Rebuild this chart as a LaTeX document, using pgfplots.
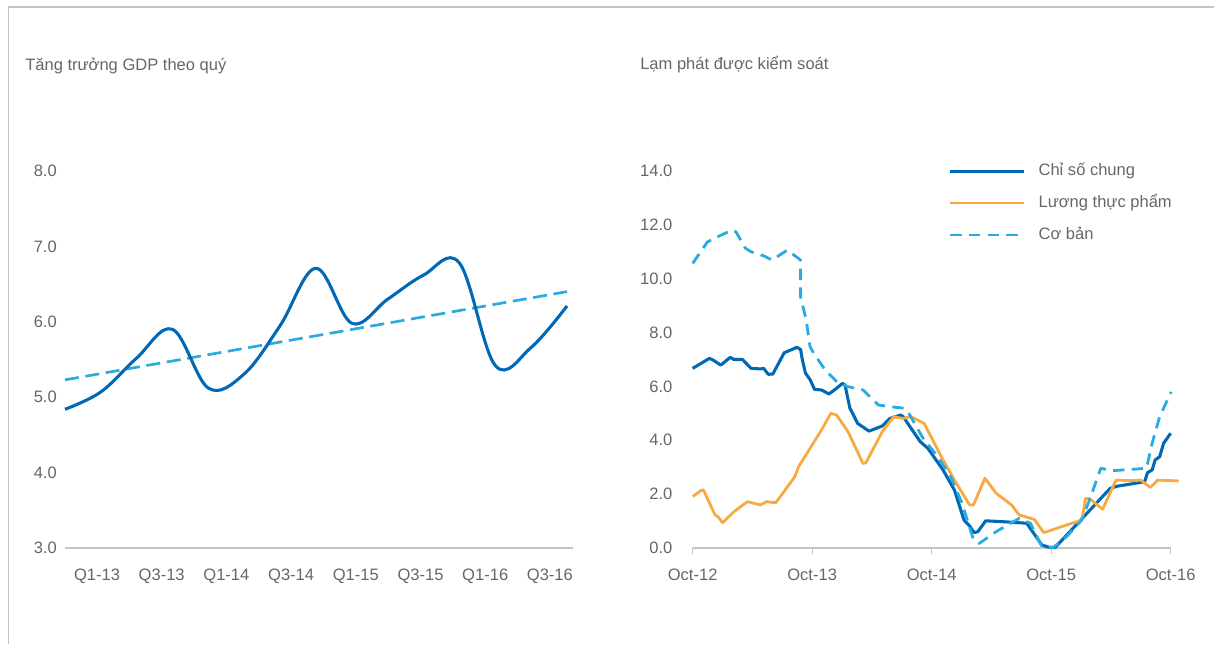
\documentclass[border=0pt]{standalone}
\usepackage{fontspec}
\setmainfont{Liberation Sans}
\usepackage{pgfplots}
\pgfplotsset{compat=1.18}
\definecolor{dkblue}{HTML}{0068B4}
\definecolor{ltblue}{HTML}{29ABE2}
\definecolor{orng}{HTML}{F8A93F}
\definecolor{txt}{HTML}{666666}
\definecolor{axg}{HTML}{C4C4C4}
\newcommand\fs{\fontsize{12.4}{14}\selectfont}

\pgfplotstableread{
x y
0 4.84
1 5.07
2 5.52
3 5.90
4 5.12
5 5.31
6 5.95
7 6.71
8 5.98
9 6.30
10 6.62
11 6.78
12 5.42
13 5.66
14 6.21
}\gdp

\pgfplotstableread{
x y
0 5.23
14 6.40
}\trend

\pgfplotstableread{
x y
0 6.67
1.67 7.04
2.05 6.98
2.82 6.79
3.77 7.08
4.15 7.0
5.0 7.0
5.87 6.67
6.82 6.65
7.13 6.67
7.59 6.45
8.05 6.46
9.19 7.25
10.45 7.45
10.83 7.38
11.02 6.98
11.33 6.49
11.78 6.26
12.24 5.89
12.93 5.87
13.69 5.72
14.45 5.93
15.03 6.11
15.3 6.05
15.79 5.19
16.06 5.0
16.56 4.63
17.7 4.34
19.04 4.53
19.8 4.81
20.87 4.94
21.13 4.88
22.85 3.95
23.62 3.70
25.14 2.90
26.29 2.15
27.24 1.04
27.81 0.82
28.27 0.57
28.65 0.61
29.42 1.01
31.5 0.97
33.54 0.92
35.07 0.11
35.83 0.02
36.4 0.02
39.27 1.16
41.94 2.22
42.7 2.30
45.38 2.46
45.68 2.80
46.14 2.90
46.44 3.27
46.9 3.39
47.29 3.89
48 4.26
}\cpi

\pgfplotstableread{
x y
0 10.57
1.49 11.37
2.63 11.58
3.97 11.81
4.35 11.74
5.3 11.13
5.87 11.0
7.2 10.84
7.97 10.69
9.49 11.06
10.64 10.75
10.83 10.69
10.83 9.33
11.4 8.47
11.78 7.48
12.16 7.23
13.3 6.61
14.64 6.11
15.6 5.99
17.1 5.87
18.66 5.31
19.8 5.25
21.25 5.19
21.7 5.0
23.24 4.01
24.38 3.51
25.91 2.65
27.05 1.66
28.2 0.30
28.77 0.17
30.49 0.61
32.78 1.10
33.92 0.92
35.07 0.05
36.2 0.02
37.55 0.42
39.08 1.04
39.84 1.78
40.98 2.96
42.13 2.87
45.57 2.96
46.14 3.89
46.9 4.88
48.05 5.80
}\core

\pgfplotstableread{
x y
0 1.91
0.9 2.15
1.09 2.15
2.24 1.23
2.55 1.16
3.0 0.94
4.15 1.35
5.49 1.72
6.82 1.60
7.4 1.72
8.35 1.68
10.26 2.65
10.64 3.02
12.93 4.38
13.88 5.0
14.45 4.94
15.6 4.32
17.1 3.14
17.4 3.17
19.04 4.32
20.19 4.88
21.13 4.81
21.9 4.88
23.24 4.63
25.14 3.27
26.48 2.40
27.81 1.60
28.2 1.60
29.35 2.59
30.49 2.03
32.02 1.60
32.78 1.23
34.31 1.06
35.26 0.57
39.08 1.04
39.46 1.84
39.84 1.84
40.41 1.66
41.17 1.44
42.51 2.52
44.04 2.50
44.99 2.52
45.95 2.25
46.71 2.52
48.8 2.49
}\food

\begin{document}
\begin{tikzpicture}
\useasboundingbox (0,0) rectangle (910.5pt,483pt);
\draw[axg, line width=1pt] (6.4pt,0pt) -- (6.4pt,477.75pt) -- (910.5pt,477.75pt);
\node[anchor=base west, inner sep=0pt, text=txt, font=\fs] at (18.75pt,429.75pt) {Tăng trưởng GDP theo quý};
\node[anchor=base west, inner sep=0pt, text=txt, font=\fs] at (480pt,430.5pt) {Lạm phát được kiểm soát};

\begin{axis}[
 at={(48.75pt,72pt)}, anchor=south west, scale only axis,
 width=381pt, height=282.75pt,
 xmin=0, xmax=14.167, ymin=3, ymax=8,
 axis lines*=left,
 x axis line style={axg, line width=1.1pt},
 y axis line style={draw=none},
 xtick={0.892,2.697,4.501,6.306,8.110,9.914,11.719,13.523},
 xticklabels={Q1-13,Q3-13,Q1-14,Q3-14,Q1-15,Q3-15,Q1-16,Q3-16},
 ytick={3,4,5,6,7,8},
 major tick length=0pt,
 tick style={draw=none},
 tick label style={font=\fs, text=txt},
 /pgf/number format/fixed, /pgf/number format/fixed zerofill,
 /pgf/number format/precision=1, /pgf/number format/assume math mode=true,
 yticklabel style={anchor=east, inner sep=0pt, xshift=-6pt},
 xticklabel style={anchor=base, inner sep=0pt, yshift=-24pt},
 clip=false,
]
\addplot[ltblue, line width=2pt, dash pattern=on 10.5pt off 5pt] table {\trend};
\addplot[dkblue, line width=2.3pt, smooth, tension=0.6] table {\gdp};
\end{axis}

\begin{axis}[
 at={(519.5pt,72pt)}, anchor=south west, scale only axis,
 width=358.5pt, height=282.75pt,
 xmin=0, xmax=48, ymin=0, ymax=14,
 axis lines*=left,
 x axis line style={axg, line width=1.1pt},
 y axis line style={draw=none},
 xtick={0,12,24,36,48},
 xticklabels={Oct-12,Oct-13,Oct-14,Oct-15,Oct-16},
 ytick={0,2,4,6,8,10,12,14},
 tick align=outside,
 major tick length=4.5pt,
 xtick style={axg, line width=1pt},
 ytick style={draw=none},
 tick label style={font=\fs, text=txt},
 /pgf/number format/fixed, /pgf/number format/fixed zerofill,
 /pgf/number format/precision=1, /pgf/number format/assume math mode=true,
 yticklabel style={anchor=east, inner sep=0pt, xshift=-10.5pt},
 xticklabel style={anchor=base, inner sep=0pt, yshift=-19.5pt},
 clip=false,
 legend style={at={(axis cs:25.7,12.81)}, anchor=west, draw=none, fill=none, inner sep=0pt,
   row sep=12pt, nodes={inner sep=0pt, text=txt, font=\fs, text height=9pt, text depth=3pt}},
 legend cell align=left,
 legend image code/.code={\draw[#1] (0pt,0pt) -- (55.5pt,0pt); \path (65pt,0pt);},
]
\addplot[dkblue, line width=2.3pt, line join=round] table {\cpi};
\addlegendentry{Chỉ số chung}
\addplot[orng, line width=2.1pt, line join=round] table {\food};
\addlegendentry{Lương thực phẩm}
\addplot[ltblue, line width=2.1pt, line join=round, dash pattern=on 8.5pt off 5.5pt] table {\core};
\addlegendentry{Cơ bản}
\end{axis}
\end{tikzpicture}
\end{document}
